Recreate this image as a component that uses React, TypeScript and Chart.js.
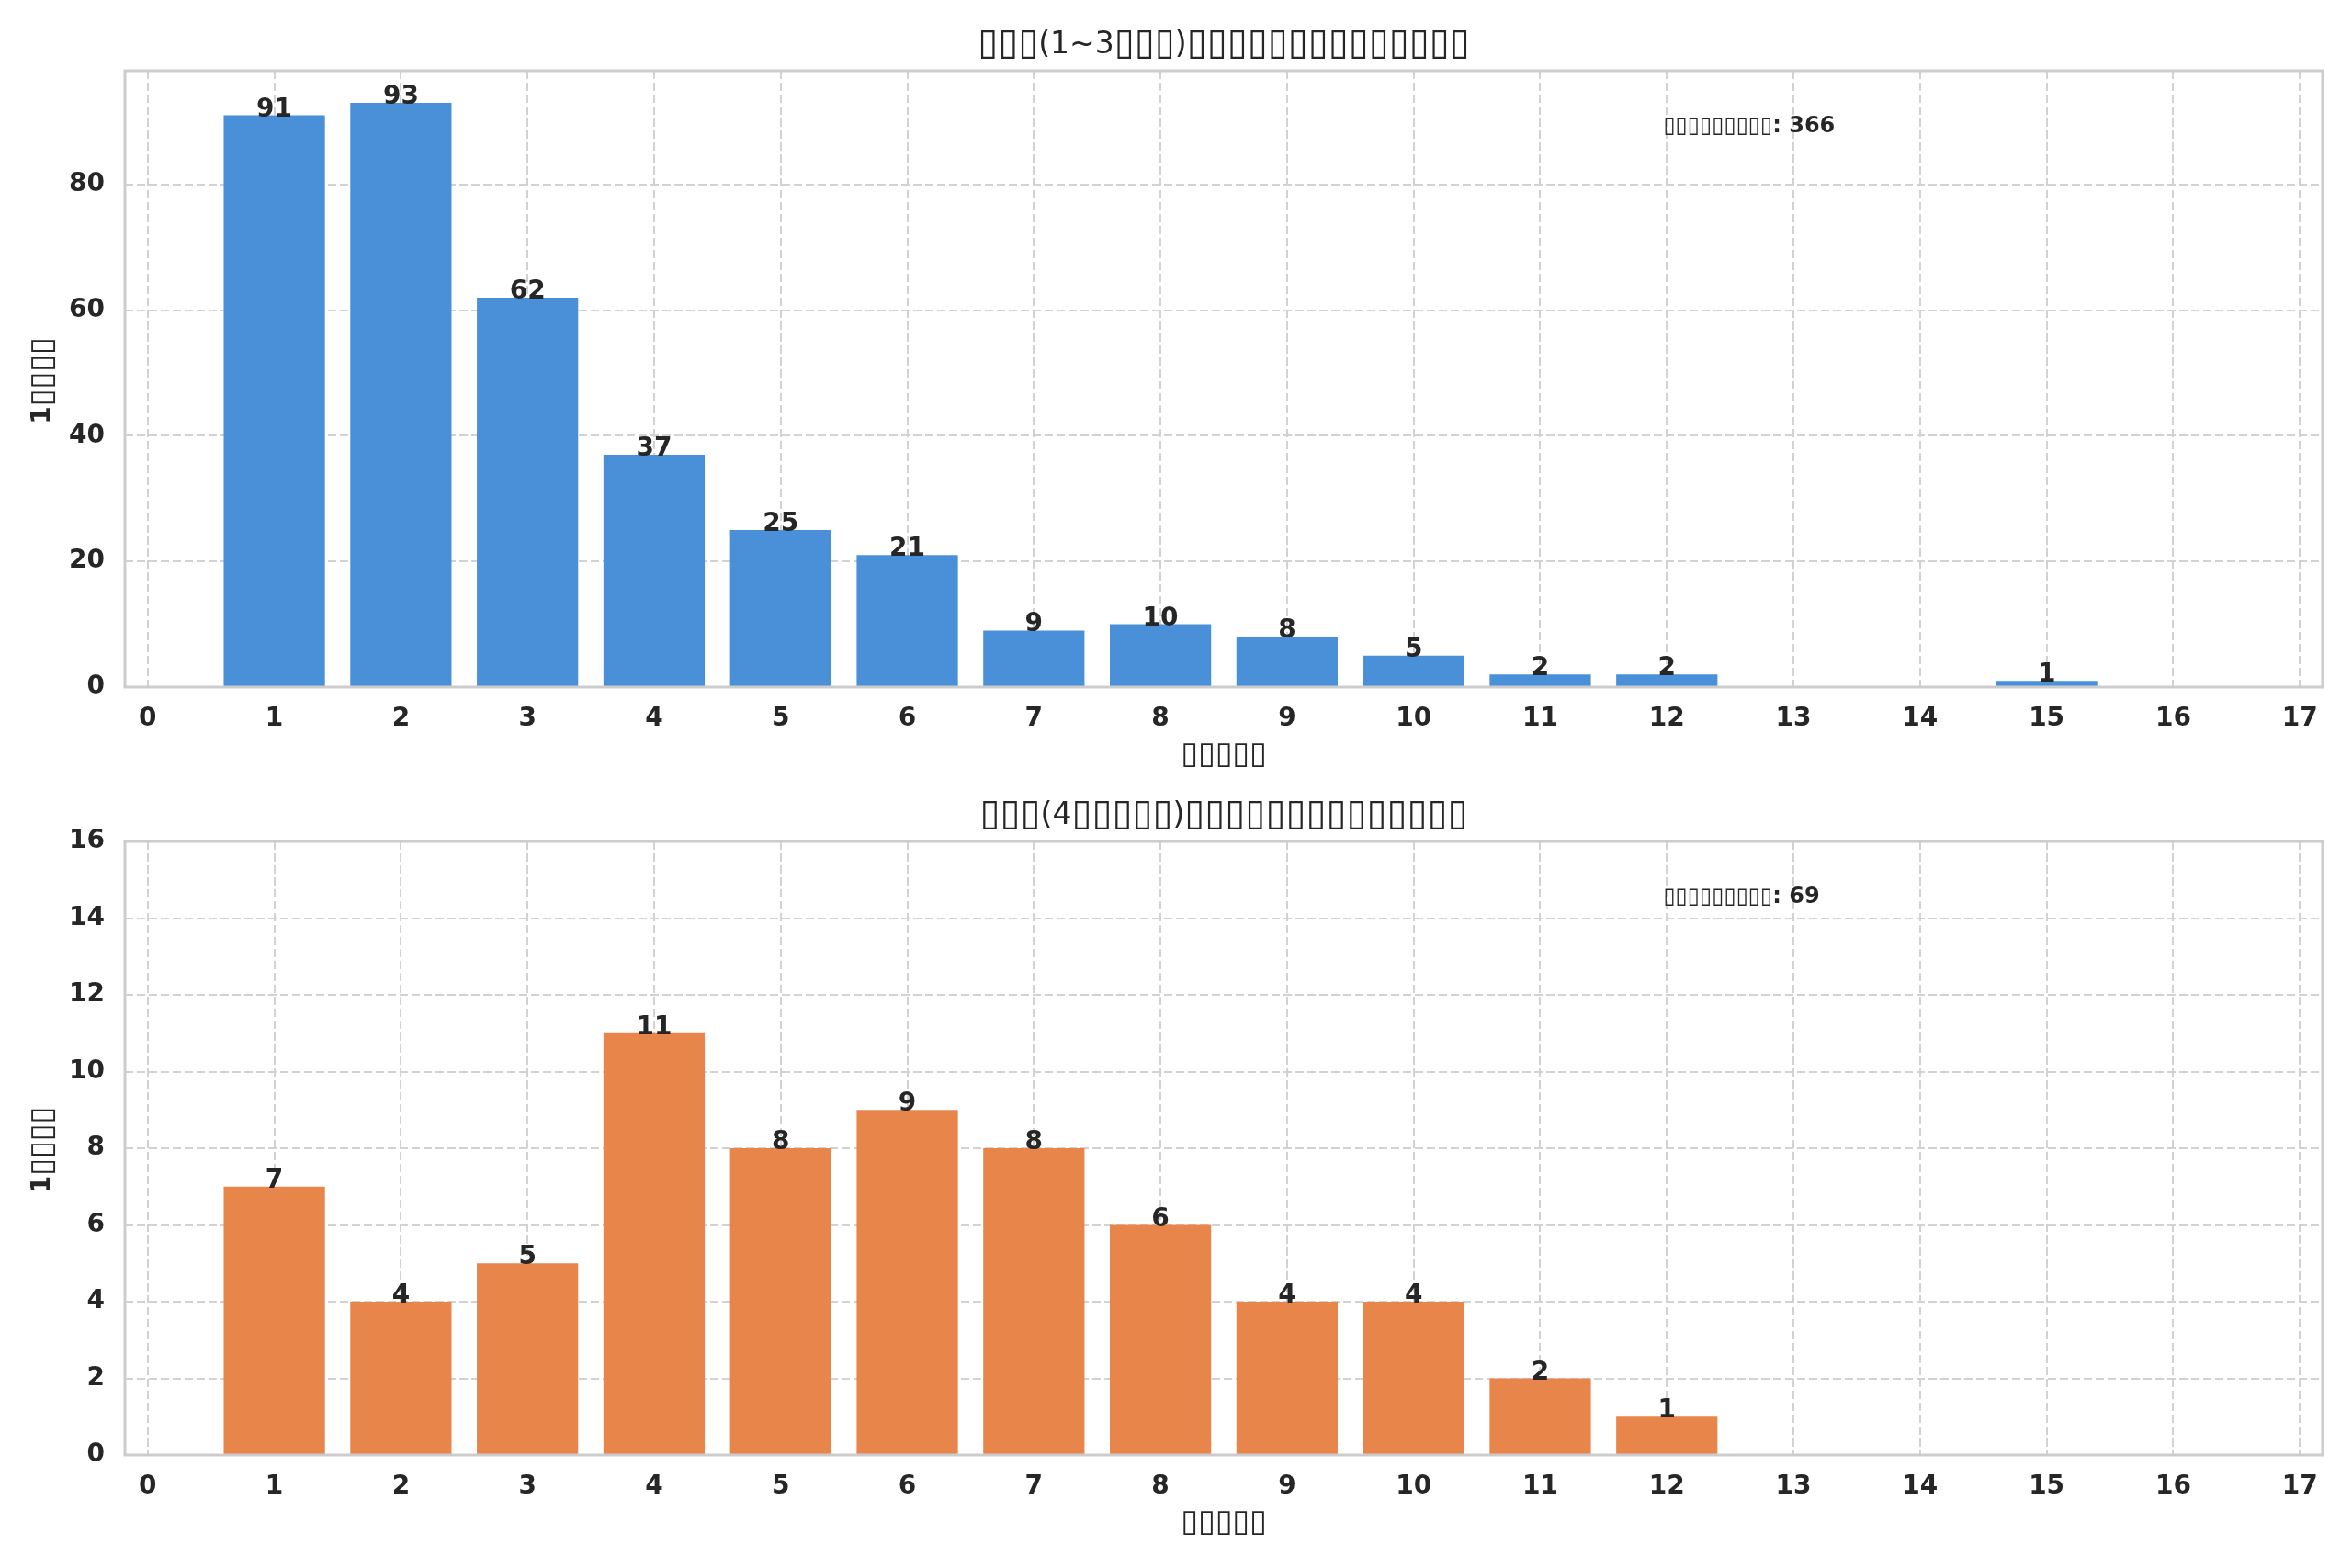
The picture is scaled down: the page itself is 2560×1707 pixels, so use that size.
import { useEffect, useRef } from "react"
import { Chart, registerables, type Plugin } from "chart.js"

Chart.register(...registerables)

// values
const xTicks = [0, 1, 2, 3, 4, 5, 6, 7, 8, 9, 10, 11, 12, 13, 14, 15, 16, 17]

const lowerDays = [1, 2, 3, 4, 5, 6, 7, 8, 9, 10, 11, 12, 15]
const lowerCounts = [91, 93, 62, 37, 25, 21, 9, 10, 8, 5, 2, 2, 1]
const lowerYTicks = [0, 20, 40, 60, 80]

const upperDays = [1, 2, 3, 4, 5, 6, 7, 8, 9, 10, 11, 12]
const upperCounts = [7, 4, 5, 11, 8, 9, 8, 6, 4, 4, 2, 1]
const upperYTicks = [0, 2, 4, 6, 8, 10, 12, 14, 16]

// the source font had no CJK glyphs, so the labels came out as empty boxes
const lowerTitle = "▯▯▯(1~3▯▯▯)▯▯▯▯▯▯▯▯▯▯▯▯▯▯"
const upperTitle = "▯▯▯(4▯▯▯▯▯)▯▯▯▯▯▯▯▯▯▯▯▯▯▯"
const xLabel = "▯▯▯▯▯"
const yLabel = "1▯▯▯▯"
const notePrefix = "▯▯▯▯▯▯▯▯▯: "

const FONT = "'DejaVu Sans', 'Liberation Sans', sans-serif"
const INK = "#262626"

// draw a string where box glyphs stay regular weight (and get scaled by boxScale)
// and the rest of the text uses `weight`
function drawRuns(
  ctx: CanvasRenderingContext2D,
  text: string,
  x: number,
  y: number,
  size: number,
  weight: string,
  align: "left" | "center",
  boxScale = 1.2
) {
  const runs: { t: string; font: string }[] = []
  for (const ch of text) {
    const font =
      ch === "▯" ? `normal ${Math.round(size * boxScale)}px ${FONT}` : `${weight} ${size}px ${FONT}`
    const last = runs[runs.length - 1]
    if (last && last.font === font) last.t += ch
    else runs.push({ t: ch, font })
  }
  let total = 0
  for (const r of runs) {
    ctx.font = r.font
    total += ctx.measureText(r.t).width
  }
  let cx = align === "center" ? x - total / 2 : x
  ctx.textAlign = "left"
  for (const r of runs) {
    ctx.font = r.font
    ctx.fillText(r.t, cx, y)
    cx += ctx.measureText(r.t).width
  }
}

function makeOverlay(title: string, total: number): Plugin<"bar"> {
  return {
    id: "overlay",
    afterDatasetsDraw(chart) {
      const { ctx, chartArea } = chart
      const { left, right, top, bottom } = chartArea
      const midX = (left + right) / 2
      ctx.save()
      ctx.fillStyle = INK

      // value labels on bars
      const meta = chart.getDatasetMeta(0)
      const values = chart.data.datasets[0].data as { x: number; y: number }[]
      ctx.font = `bold 28px ${FONT}`
      ctx.textAlign = "center"
      ctx.textBaseline = "alphabetic"
      meta.data.forEach((bar, i) => {
        ctx.fillText(String(values[i].y), bar.x, bar.y + 1)
      })

      // spines
      ctx.strokeStyle = "#cccccc"
      ctx.lineWidth = 3
      ctx.strokeRect(left, top, right - left, bottom - top)

      // title
      ctx.textBaseline = "middle"
      drawRuns(ctx, title, midX, top - 28, 33, "normal", "center")

      // axis labels
      drawRuns(ctx, xLabel, midX, bottom + 74, 28, "bold", "center")
      ctx.save()
      ctx.translate(47, (top + bottom) / 2 + 2)
      ctx.rotate(-Math.PI / 2)
      drawRuns(ctx, yLabel, 0, 0, 28, "bold", "center")
      ctx.restore()

      // total note at axes fraction (0.7, 0.9)
      ctx.textBaseline = "alphabetic"
      drawRuns(
        ctx,
        notePrefix + total,
        left + 0.7 * (right - left),
        bottom - 0.9 * (bottom - top),
        24,
        "bold",
        "left",
        1
      )
      ctx.restore()
    },
  }
}

interface PanelProps {
  days: number[]
  counts: number[]
  yTicks: number[]
  yMax: number
  color: string
  title: string
  padTop: number
  axisHeight: number
}

function Panel({ days, counts, yTicks, yMax, color, title, padTop, axisHeight }: PanelProps) {
  const canvasRef = useRef<HTMLCanvasElement>(null)

  useEffect(() => {
    if (!canvasRef.current) return
    const total = counts.reduce((a, b) => a + b, 0)
    const chart = new Chart(canvasRef.current, {
      type: "bar",
      data: {
        datasets: [
          {
            data: days.map((d, i) => ({ x: d, y: counts[i] })),
            backgroundColor: color,
            borderWidth: 0,
            barPercentage: 0.8,
            categoryPercentage: 1,
          },
        ],
      },
      options: {
        animation: false,
        responsive: true,
        maintainAspectRatio: false,
        layout: { padding: { top: padTop, right: 32, left: 0, bottom: 0 } },
        plugins: {
          legend: { display: false },
          tooltip: { enabled: false },
        },
        scales: {
          x: {
            type: "linear",
            min: -0.18,
            max: 17.18,
            offset: false,
            afterBuildTicks: (axis) => {
              axis.ticks = xTicks.map((v) => ({ value: v }))
            },
            afterFit: (axis) => {
              axis.height = axisHeight
            },
            ticks: {
              padding: 18,
              color: INK,
              font: { family: FONT, size: 28, weight: "bold" },
              callback: (v) => String(v),
            },
            grid: { color: "#d2d2d2", lineWidth: 2, drawTicks: false, offset: false },
            border: { display: false, dash: [9, 4] },
          },
          y: {
            type: "linear",
            min: 0,
            max: yMax,
            afterBuildTicks: (axis) => {
              axis.ticks = yTicks.map((v) => ({ value: v }))
            },
            afterFit: (axis) => {
              axis.width = 136
            },
            ticks: {
              padding: 22,
              color: INK,
              font: { family: FONT, size: 28, weight: "bold" },
              callback: (v) => String(v),
            },
            grid: { color: "#d2d2d2", lineWidth: 2, drawTicks: false },
            border: { display: false, dash: [9, 4] },
          },
        },
      },
      plugins: [makeOverlay(title, total)],
    })
    return () => chart.destroy()
  }, [days, counts, yTicks, yMax, color, title, padTop, axisHeight])

  return <canvas ref={canvasRef} />
}

export default function App() {
  return (
    <div
      style={{
        position: "fixed",
        left: 0,
        top: 0,
        width: 2560,
        height: 1707,
        background: "#ffffff",
      }}
    >
      <div style={{ position: "absolute", left: 0, top: 0, width: 2560, height: 853 }}>
        <Panel
          days={lowerDays}
          counts={lowerCounts}
          yTicks={lowerYTicks}
          yMax={98.1}
          color="#4a90d9"
          title={lowerTitle}
          padTop={77}
          axisHeight={105}
        />
      </div>
      <div style={{ position: "absolute", left: 0, top: 853, width: 2560, height: 854 }}>
        <Panel
          days={upperDays}
          counts={upperCounts}
          yTicks={upperYTicks}
          yMax={16}
          color="#e8854b"
          title={upperTitle}
          padTop={63}
          axisHeight={123}
        />
      </div>
    </div>
  )
}
